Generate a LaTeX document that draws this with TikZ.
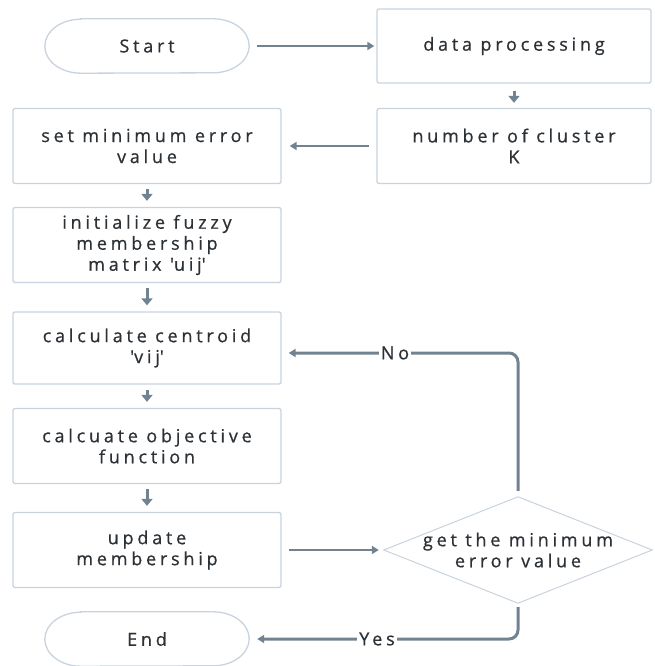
\documentclass[tikz,border=0pt]{standalone}
\usepackage{fontspec}
\setmainfont{Open Sans}[LetterSpace=21,FakeBold=0.7]
\usetikzlibrary{arrows.meta}

\definecolor{edge}{HTML}{C8D3DD}
\definecolor{flow}{HTML}{718290}
\definecolor{ink}{HTML}{2C3136}

% outline of a terminal (stadium with elliptic ends)
\newcommand\termoutline[1]{%
  \draw[outline]
    ([xshift=36pt]#1.north west) -- ([xshift=-36pt]#1.north east)
    arc[start angle=90,end angle=-90,x radius=36pt,y radius=27pt]
    -- ([xshift=36pt]#1.south west)
    arc[start angle=270,end angle=90,x radius=36pt,y radius=27pt]
    -- cycle;}
\newcommand\sq{\textquotesingle}

\begin{document}
\begin{tikzpicture}[x=1pt,y=-1pt,
  txt/.style={text=ink,font=\fontsize{18}{21}\selectfont,align=center,inner sep=0pt},
  outline/.style={draw=edge,line width=1.3pt},
  box/.style={txt,outline,rounded corners=2pt,minimum width=268pt,minimum height=75pt},
  term/.style={txt,minimum width=204pt,minimum height=54pt},
  flowarrow/.style={draw=flow,line width=2pt,-{Triangle[length=7pt,width=8pt]}},
  downarrow/.style={draw=flow,line width=3pt,-{Triangle[length=7pt,width=11pt]}},
  loopline/.style={flowarrow,line width=3pt,rounded corners=9pt},
  lbl/.style={txt,fill=white,inner xsep=2pt,inner ysep=2pt}]
\useasboundingbox (0,0) rectangle (654,666);

% right column
\node[term] (start) at (147,46) {Start};
\termoutline{start}
\node[box,minimum width=274pt,minimum height=74pt] (data) at (514,46) {data processing};
\node[box,minimum width=274pt] (cluster) at (514,146) {number of cluster\\K};

% left column
\node[box] (set) at (147,146) {set minimum error\\value};
\node[box] (init) at (147,245) {initialize fuzzy\\membership\\matrix \sq uij\sq};
\node[box,minimum height=72pt] (cent) at (147,348) {calculate centroid\\\sq vij\sq};
\node[box] (obj) at (147,446) {calcuate objective\\function};
\node[box] (upd) at (147,550) {update\\membership};
\node[term] (end) at (147,639) {End};
\termoutline{end}

% decision
\node[txt,minimum width=268pt,minimum height=106pt] (dec) at (518,550) {get the minimum\\error value};
\draw[outline,line width=1pt] (dec.north) -- (dec.east) -- (dec.south) -- (dec.west) -- cycle;

% straight connectors
\draw[flowarrow,shorten <=8pt,shorten >=2pt] (start.east) -- (data.west);
\draw[downarrow,shorten <=7pt,shorten >=5pt] (data.south) -- (cluster.north);
\draw[flowarrow,shorten <=7pt,shorten >=8pt] (cluster.west) -- (set.east);
\draw[downarrow,shorten <=5pt,shorten >=6pt] (set.south) -- (init.north);
\draw[downarrow,shorten <=5pt,shorten >=6pt] (init.south) -- (cent.north);
\draw[downarrow,shorten <=5pt,shorten >=6pt] (cent.south) -- (obj.north);
\draw[downarrow,shorten <=5pt,shorten >=6pt] (obj.south) -- (upd.north);
\draw[flowarrow,shorten <=7pt,shorten >=5pt] (upd.east) -- (dec.west);

% decision outcomes
\draw[loopline,shorten <=6pt,shorten >=7pt] (dec.north) |- ([yshift=-5pt]cent.east);
\draw[loopline,shorten <=4pt,shorten >=8pt] (dec.south) |- (end.east);
\node[lbl] at (395,353) {No};
\node[lbl] at (377,639) {Yes};
\end{tikzpicture}
\end{document}
